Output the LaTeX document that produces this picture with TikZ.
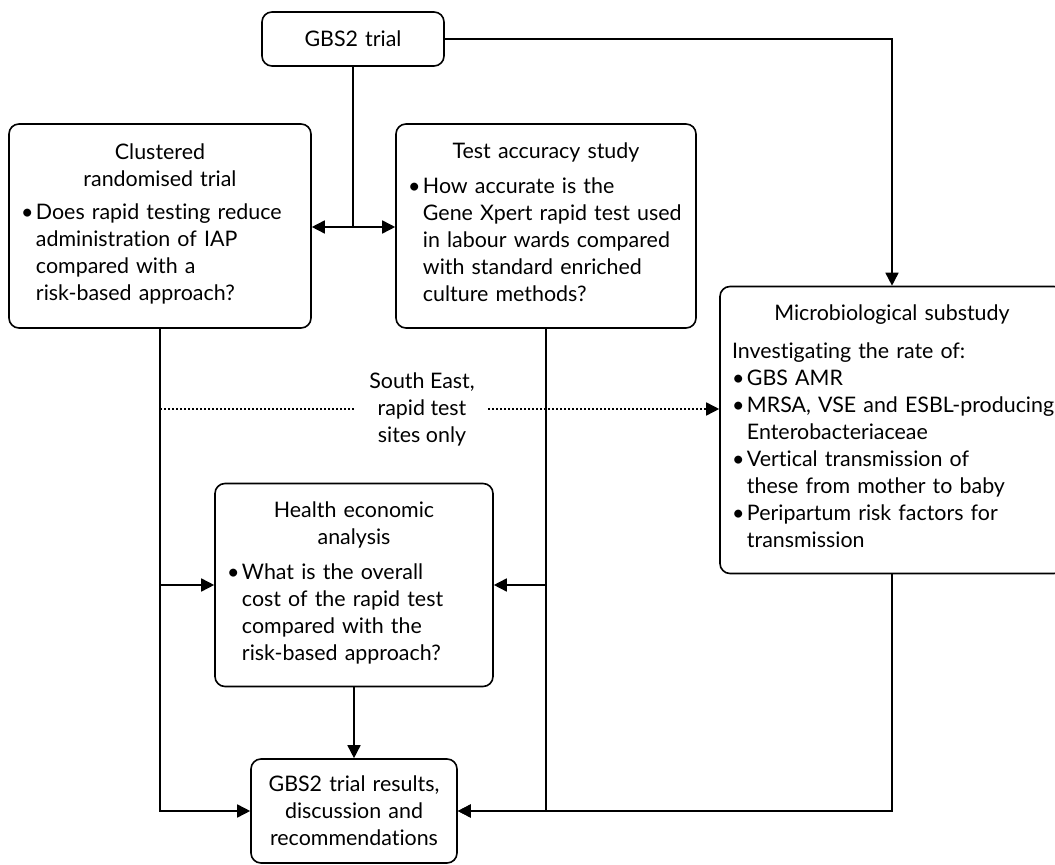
\documentclass[tikz,border=0pt]{standalone}
\usepackage{fontspec}
\setmainfont{Lato}[Ligatures=NoCommon]
\usepackage{tikz}
\usetikzlibrary{arrows.meta}
\tikzset{
box/.style 2 args = {rectangle, rounded corners=5pt, draw=black, line width=0.8pt,
              text width=#1, minimum height=#2, inner xsep=6pt, inner ysep=2pt,
              align=left, font=\fontsize{10.7}{13.5}\selectfont},
box/.default = {100pt}{30pt}
}
\tikzset{
flow/.style = {line width=0.8pt},
dots/.style = {line width=0.8pt, dash pattern=on 1pt off 1pt},
>={Triangle[length=6.5pt,width=6.5pt]}
}
\newcommand{\boxhead}[2][4pt]{{\centering #2\par}\vspace{#1}}
\newcommand{\bitem}[1]{\par\noindent\makebox[0.7em][l]{\textbullet}%
  \parbox[t]{\dimexpr\linewidth-0.7em\relax}{\raggedright #1\strut}\par
  \prevdepth=\dp\strutbox}

\begin{document}
\begin{tikzpicture}[x=0.5pt, y=-0.5pt]
    \useasboundingbox (0,0) rectangle (1055,865);
    \clip (0,0) rectangle (1055,865);

    \node[box={79pt}{27pt}, align=center] (gbsTrial) at (353,39) {GBS2 trial};
    \node[box={139pt}{102pt}] (clusterTrial) at (160,226)
        {\boxhead[3pt]{Clustered\\randomised trial}%
         \bitem{Does rapid testing reduce\\ administration of IAP\\ compared with a\\ risk-based approach?}};
    \node[box={138pt}{102pt}] (testStudy) at (546,226)
        {\boxhead{Test accuracy study}%
         \bitem{How accurate is the\\ Gene Xpert rapid test used\\ in labour wards compared\\ with standard enriched\\ culture methods?}};
    \node[box={160pt}{143.5pt}] (microStudy) at (892,430)
        {\boxhead[5.5pt]{Microbiological substudy}%
         \noindent Investigating the rate of:
         \bitem{GBS AMR}
         \bitem{\mbox{MRSA, VSE and ESBL-producing}\\ Enterobacteriaceae}
         \bitem{Vertical transmission of\\ these from mother to baby}
         \bitem{Peripartum risk factors for\\ transmission}};
    \node[box={127pt}{101.5pt}] (healthEcon) at (354,585)
        {\boxhead{Health economic\\analysis}%
         \bitem{What is the overall\\ cost of the rapid test\\ compared with the\\ risk-based approach?}};
    \node[box={91pt}{52pt}, align=center] (trialResults) at (354,811)
        {GBS2 trial results,\\discussion and\\recommendations};
    \node[align=center, inner xsep=6.5pt, font=\fontsize{10.7}{13.5}\selectfont] (sitesNote) at (422,409)
        {South East,\\rapid test\\sites only};

    \coordinate (splitPt) at (353,227);

    \draw[flow] (gbsTrial.south) -- (splitPt);
    \draw[flow,->] (splitPt) -- (clusterTrial.east |- splitPt);
    \draw[flow,->] (splitPt) -- (testStudy.west |- splitPt);
    \draw[flow,->] (gbsTrial.east) -| (microStudy.north);

    \draw[dots] (clusterTrial.south |- sitesNote) -- (sitesNote.west);
    \draw[dots,->] (sitesNote.east) -- (microStudy.west |- sitesNote);

    \draw[flow,->] (clusterTrial.south) |- (trialResults.west);
    \draw[flow,->] (clusterTrial.south |- healthEcon.west) -- (healthEcon.west);
    \draw[flow,->] (testStudy.south) |- (trialResults.east);
    \draw[flow,->] (testStudy.south |- healthEcon.east) -- (healthEcon.east);
    \draw[flow,->] (microStudy.south) |- (trialResults.east);
    \draw[flow,->] (healthEcon.south) -- (trialResults.north);
\end{tikzpicture}
\end{document}
